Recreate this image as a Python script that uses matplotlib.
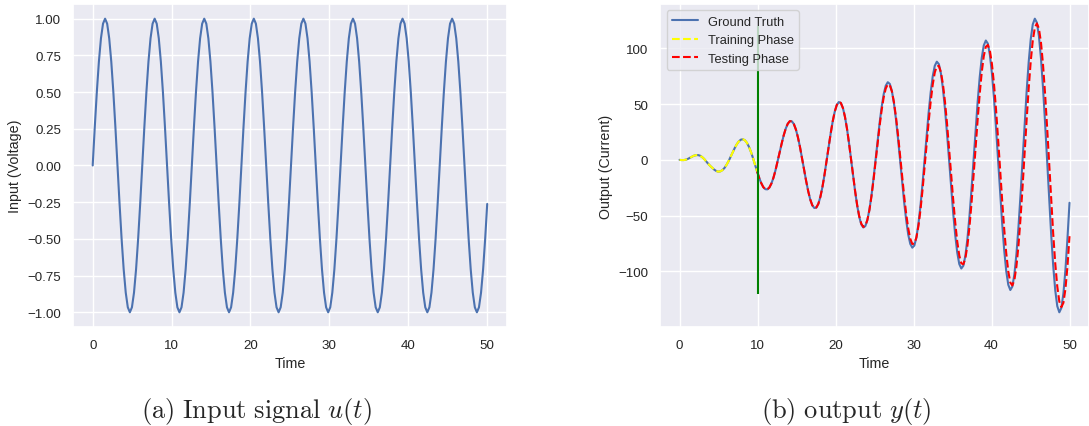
import matplotlib.pyplot as plt
import numpy as np
import seaborn as sns

sns.set_theme(style='darkgrid')
plt.rcParams['font.family'] = ['Liberation Sans', 'DejaVu Sans']
plt.rcParams['mathtext.fontset'] = 'cm'

# sampling grid of the simulation: 15 degree steps, last sample at t=50
step = np.pi / 12
time = np.append(np.arange(191) * step, 50.0)

# input u(t), one row per period
input_voltage = [
    0, 0.259, 0.5, 0.707, 0.866, 0.966, 1, 0.966, 0.866, 0.707, 0.5, 0.259,
    0, -0.259, -0.5, -0.707, -0.866, -0.966, -1, -0.966, -0.866, -0.707, -0.5, -0.259,
    0, 0.259, 0.5, 0.707, 0.866, 0.966, 1, 0.966, 0.866, 0.707, 0.5, 0.259,
    0, -0.259, -0.5, -0.707, -0.866, -0.966, -1, -0.966, -0.866, -0.707, -0.5, -0.259,
    0, 0.259, 0.5, 0.707, 0.866, 0.966, 1, 0.966, 0.866, 0.707, 0.5, 0.259,
    0, -0.259, -0.5, -0.707, -0.866, -0.966, -1, -0.966, -0.866, -0.707, -0.5, -0.259,
    0, 0.259, 0.5, 0.707, 0.866, 0.966, 1, 0.966, 0.866, 0.707, 0.5, 0.259,
    0, -0.259, -0.5, -0.707, -0.866, -0.966, -1, -0.966, -0.866, -0.707, -0.5, -0.259,
    0, 0.259, 0.5, 0.707, 0.866, 0.966, 1, 0.966, 0.866, 0.707, 0.5, 0.259,
    0, -0.259, -0.5, -0.707, -0.866, -0.966, -1, -0.966, -0.866, -0.707, -0.5, -0.259,
    0, 0.259, 0.5, 0.707, 0.866, 0.966, 1, 0.966, 0.866, 0.707, 0.5, 0.259,
    0, -0.259, -0.5, -0.707, -0.866, -0.966, -1, -0.966, -0.866, -0.707, -0.5, -0.259,
    0, 0.259, 0.5, 0.707, 0.866, 0.966, 1, 0.966, 0.866, 0.707, 0.5, 0.259,
    0, -0.259, -0.5, -0.707, -0.866, -0.966, -1, -0.966, -0.866, -0.707, -0.5, -0.259,
    0, 0.259, 0.5, 0.707, 0.866, 0.966, 1, 0.966, 0.866, 0.707, 0.5, 0.259,
    0, -0.259, -0.5, -0.707, -0.866, -0.966, -1, -0.966, -0.866, -0.707, -0.5,
    -0.262,
]

# output y(t), ground truth (blue)
ground_truth = [
    0.0, -0.2, -0.2, 0.1, 0.8, 1.8, 2.8, 3.7, 4.2, 4.3, 3.8, 2.6,
    0.9, -1.3, -3.4, -5.4, -7.1, -8.8, -10.0, -10.6, -10.3, -9.2, -7.3, -4.5,
    -1.2, 2.7, 6.6, 10.5, 13.9, 16.5, 18.1, 18.5, 17.6, 15.3, 11.7, 7.0,
    1.5, -4.5, -10.5, -16.1, -20.8, -24.4, -26.3, -26.5, -24.8, -21.2, -16.0, -9.3,
    -1.6, 6.5, 14.5, 21.9, 28.0, 32.4, 34.7, 34.6, 32.1, 27.2, 20.1, 11.4,
    1.5, -8.8, -18.9, -28.0, -35.5, -40.7, -43.2, -42.8, -39.4, -33.0, -24.2, -13.3,
    -1.2, 11.4, 23.5, 34.4, 43.2, 49.2, 51.9, 51.1, 46.6, 38.8, 28.1, 15.0,
    0.6, -14.2, -28.5, -41.1, -51.1, -57.9, -60.7, -59.4, -53.9, -44.6, -31.9, -16.7,
    0.0, 17.1, 33.4, 47.7, 59.1, 66.6, 69.7, 68.1, 61.7, 50.9, 36.4, 19.0,
    0.0, -19.4, -37.9, -54.1, -67.0, -75.4, -78.8, -76.9, -69.6, -57.4, -41.0, -21.4,
    0.0, 21.8, 42.5, 60.7, 75.0, 84.4, 88.1, 85.9, 77.7, 64.0, 45.6, 23.8,
    0.0, -24.2, -47.2, -67.3, -83.1, -93.5, -97.5, -95.0, -85.9, -70.7, -50.4, -26.3,
    0.0, 26.7, 52.0, 74.0, 91.4, 102.7, 107.1, 104.3, 94.2, 77.5, 55.2, 28.8,
    0.0, -29.2, -56.8, -80.9, -99.8, -112.1, -116.8, -113.7, -102.6, -84.4, -60.1, -31.3,
    0.0, 31.7, 61.7, 87.9, 108.3, 121.6, 126.7, 123.2, 111.2, 91.4, 65.0, 33.9,
    0.0, -34.3, -66.7, -94.9, -117.0, -131.3, -136.8, -132.9, -119.9, -98.5, -70.1,
    -38.5,
]

# testing prediction after t~22, where it starts to drift from the ground truth
testing_tail = [
    0.6, -14.0, -28.1, -40.6, -50.5, -57.2, -60.2, -59.1, -53.9, -44.9, -32.7, -18.1,
    -1.9, 14.7, 30.7, 44.9, 56.3, 64.1, 67.8, 66.9, 61.5, 51.8, 38.5, 22.3,
    4.3, -14.3, -32.3, -48.4, -61.5, -70.8, -75.5, -75.1, -69.7, -59.4, -44.9, -27.1,
    -7.2, 13.7, 34.0, 52.3, 67.5, 78.4, 84.1, 84.3, 78.8, 67.9, 52.2, 32.7,
    10.6, -12.5, -35.2, -55.9, -73.2, -85.8, -92.8, -93.7, -88.2, -76.8, -59.9, -38.8,
    -14.6, 10.9, 36.0, 59.1, 78.6, 93.1, 101.5, 103.1, 97.9, 86.0, 68.1, 45.3,
    19.1, -8.7, -36.3, -61.9, -83.7, -100.1, -110.1, -112.7, -107.8, -95.5, -76.7, -52.4,
    -24.2, 5.9, 36.1, 64.3, 88.5, 107.0, 118.6, 122.4, 117.9, 105.5, 85.8, 60.0,
    29.9, -2.6, -35.4, -66.2, -92.9, -113.7, -127.1, -132.1, -128.3, -115.7, -95.3,
    -68.5,
]

split = 38          # sample index at t~10
training = ground_truth[:split + 1]
testing = ground_truth[split:84] + testing_tail

blue = '#4c72b0'
fig = plt.figure(figsize=(10.89, 4.27), dpi=100)
ax1 = fig.add_axes([0.0670, 0.2319, 0.3985, 0.7564])
ax2 = fig.add_axes([0.6061, 0.2319, 0.3939, 0.7564])

ax1.plot(time, input_voltage, color=blue, lw=1.5)
ax1.set_xlabel('Time', fontsize=10.3)
ax1.set_ylabel('Input (Voltage)', fontsize=10.3)

ax2.plot(time, ground_truth, color=blue, lw=1.5, label='Ground Truth')
ax2.plot(time[:split + 1], training, color='yellow', ls='--', lw=1.5, label='Training Phase')
ax2.plot(time[split:], testing, color='red', ls='--', lw=1.5, label='Testing Phase')
ax2.vlines(10, -120, 120, colors='green', lw=1.5)
ax2.set_xlabel('Time', fontsize=10.3)
ax2.set_ylabel('Output (Current)', fontsize=10.3)
ax2.legend(loc='upper left', fontsize=9.3)

for ax in (ax1, ax2):
    ax.tick_params(labelsize=9.6, length=0, pad=8.5)

fig.text(257 / 1089, 9 / 427, r'$\mathrm{(a)\ Input\ signal}\ u(t)$',
         ha='center', va='baseline', fontsize=19)
fig.text(846 / 1089, 9 / 427, r'$\mathrm{(b)\ output}\ y(t)$',
         ha='center', va='baseline', fontsize=19)

fig.savefig('out.png', dpi=100)
